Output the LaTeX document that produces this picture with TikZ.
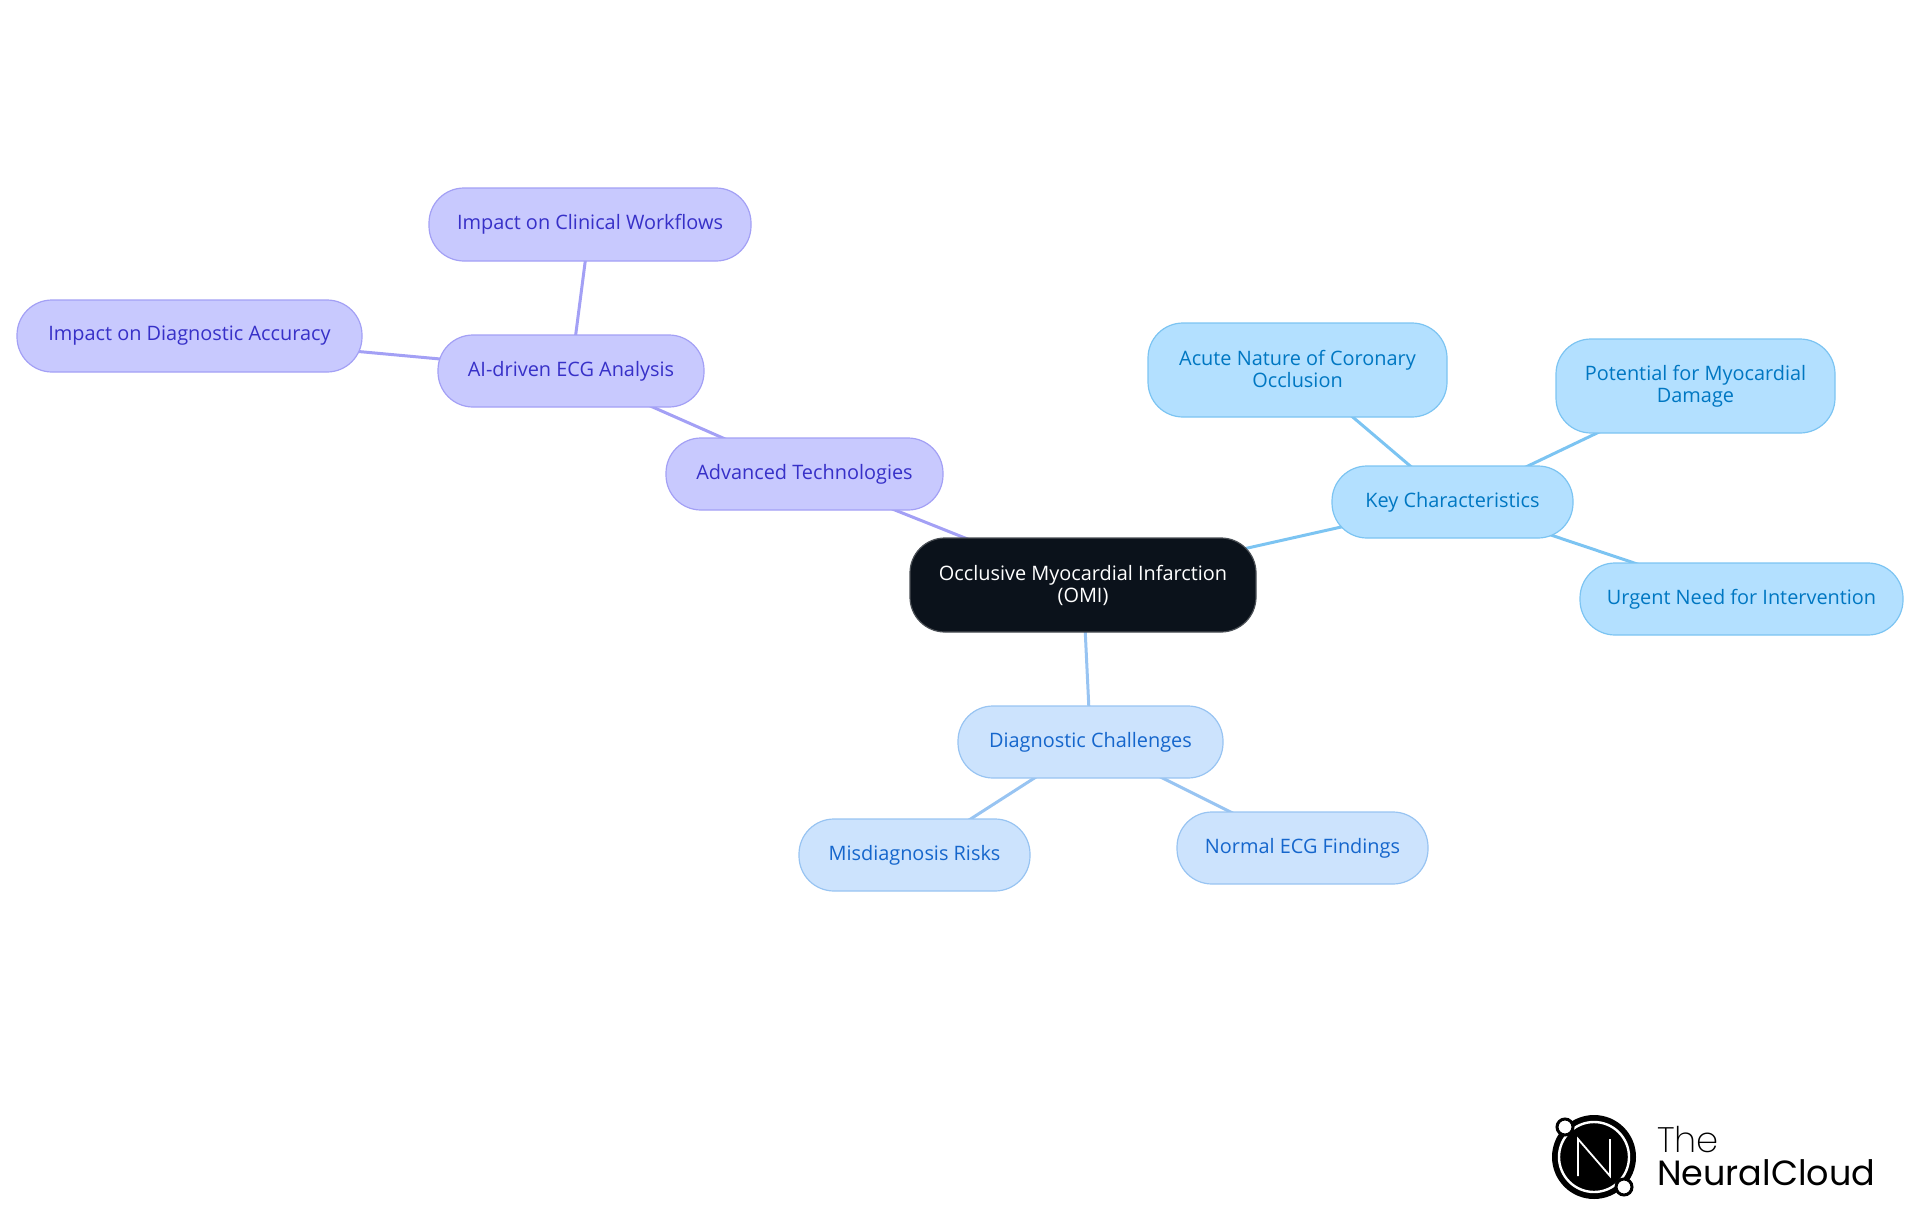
\documentclass[tikz,border=0pt]{standalone}
\usepackage{fontspec}
\setmainfont{Open Sans}
\newfontfamily\logolight{Poppins ExtraLight}
\newfontfamily\logoreg{Poppins}
\usetikzlibrary{backgrounds}
\definecolor{purF}{HTML}{C8C9FE}\definecolor{purS}{HTML}{A3A0F5}\definecolor{purT}{HTML}{3730C8}
\definecolor{keyF}{HTML}{B3E0FF}\definecolor{keyS}{HTML}{7CC4F2}\definecolor{keyT}{HTML}{0077C2}
\definecolor{diaF}{HTML}{CCE3FD}\definecolor{diaS}{HTML}{98C4F2}\definecolor{diaT}{HTML}{1566CC}
\definecolor{rootF}{HTML}{0B121B}\definecolor{rootS}{HTML}{4A4F55}
\tikzset{
  x=1pt,y=-1pt,
  mm/.style={rounded corners=35pt,line width=1.2pt,align=center,inner sep=0pt,
     font=\fontsize{19.9}{22}\selectfont},
  pur/.style={mm,draw=purS,fill=purF,text=purT},
  kee/.style={mm,draw=keyS,fill=keyF,text=keyT},
  dia/.style={mm,draw=diaS,fill=diaF,text=diaT},
  root/.style={mm,draw=rootS,fill=rootF,text=white},
  purE/.style={draw=purS,line width=3pt},
  keeE/.style={draw=keyS,line width=3pt},
  diaE/.style={draw=diaS,line width=3pt},
}
\newcommand{\bx}[7]{\node[#1,minimum width=#5-#3,minimum height=#6-#4] (#2) at ({(#3+#5)/2},{(#4+#6)/2}) {#7};}
\newcommand{\dn}[1]{\raisebox{-1.2pt}{#1}}
\newcommand{\dnn}[1]{\raisebox{-2.4pt}{#1}}
\newcommand{\upa}[1]{\raisebox{2pt}{#1}}
\newcommand{\upb}[1]{\raisebox{0.7pt}{#1}}
\begin{document}
\begin{tikzpicture}
\useasboundingbox (0,0) rectangle (1920,1215);
\bx{root}{om}{910}{538}{1256}{632}{\upb{Occlusive Myocardial Infarction}\\\upb{(OMI)}}
\bx{pur}{adv}{666}{438}{943}{510}{\dn{Advanced Technologies}}
\bx{pur}{ai}{438}{335}{704}{407}{\dn{AI-driven ECG Analysis}}
\bx{pur}{cli}{429}{188}{751}{261}{\dnn{Impact on Clinical Workflows}}
\bx{pur}{acc}{17}{300}{362}{372}{\dnn{Impact on Diagnostic Accuracy}}
\bx{kee}{key}{1332}{466}{1573}{538}{\dn{Key Characteristics}}
\bx{kee}{acu}{1148}{323}{1447}{417}{\upa{Acute Nature of Coronary}\\\upa{Occlusion}}
\bx{kee}{pot}{1556}{339}{1835}{433}{Potential for Myocardial\\Damage}
\bx{kee}{urg}{1580}{563}{1903}{635}{\dn{Urgent Need for Intervention}}
\bx{dia}{dgn}{958}{706}{1223}{778}{\dnn{Diagnostic Challenges}}
\bx{dia}{mis}{799}{819}{1030}{891}{\dnn{Misdiagnosis Risks}}
\bx{dia}{nor}{1177}{812}{1428}{884}{\dn{Normal ECG Findings}}
\begin{pgfonlayer}{background}
\draw[purE] (om.center) -- (adv.center);
\draw[purE] (adv.center) -- (ai.center);
\draw[purE] (ai.center) -- (cli.center);
\draw[purE] (ai.center) -- (acc.center);
\draw[keeE] (om.center) -- (key.center);
\draw[keeE] (key.center) -- (acu.center);
\draw[keeE] (key.center) -- (pot.center);
\draw[keeE] (key.center) -- (urg.center);
\draw[diaE] (om.center) -- (dgn.center);
\draw[diaE] (dgn.center) -- (mis.center);
\draw[diaE] (dgn.center) -- (nor.center);
\end{pgfonlayer}
% logo
\fill[black] (1594,1157) circle (42);
\draw[white,line width=2.4pt] (1594,1157) circle (35);
\draw[white,line width=1.8pt,line join=miter] (1578,1176) -- (1578,1139) -- (1610,1176) -- (1610,1139);
\filldraw[fill=white,draw=black,line width=3pt] (1565,1127) circle (8);
\filldraw[fill=white,draw=black,line width=3pt] (1624,1187) circle (8);
\node[anchor=base west,inner sep=0pt,font=\logolight\fontsize{35.4}{35}\selectfont] (lgA) at (1657,1152) {The};
\node[anchor=base west,inner sep=0pt,font=\logoreg\fontsize{35}{35}\selectfont] (lgB) at (1657,1185) {NeuralCloud};
\end{tikzpicture}
\end{document}
